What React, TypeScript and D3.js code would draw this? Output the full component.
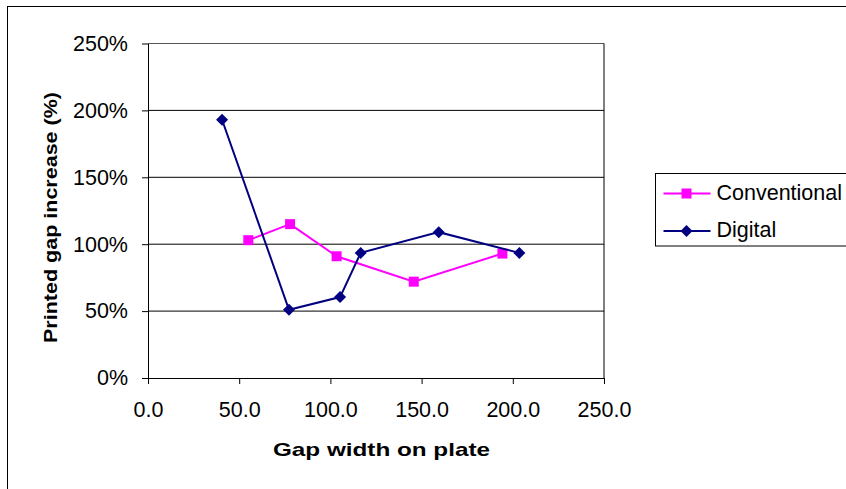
import React, { useRef, useEffect } from 'react';
import * as d3 from 'd3';

const conventionalX = [55.0, 77.9, 103.4, 145.7, 194.3];
const conventionalY = [103, 115, 91, 72, 93];
const digitalX = [40.6, 77.3, 105.3, 116.6, 159.4, 203.6];
const digitalY = [193, 51, 60.5, 93.5, 109, 93.5];
const xTicks = [0, 50, 100, 150, 200, 250];
const yTicks = [0, 50, 100, 150, 200, 250];
const seriesNames = ['Conventional', 'Digital'];
const seriesColors = ['#FF00FF', '#000080'];

export default function App() {
    const svgRef = useRef<SVGSVGElement>(null);
    const width = 846;
    const height = 489;
    const margin = { top: 43.5, right: 242, bottom: 111, left: 148 };

    useEffect(() => {
        const svg = d3.select(svgRef.current);
        svg.selectAll('*').remove();
        const font = 'Liberation Sans, Arial, sans-serif';

        // chart area border (cut off at right and bottom)
        svg.append('rect')
            .attr('x', 7.5).attr('y', 6.5)
            .attr('width', 900).attr('height', 600)
            .attr('fill', 'white').attr('stroke', 'black').attr('stroke-width', 1);

        const x = d3.scaleLinear().domain([0, 250]).range([margin.left, width - margin.right]);
        const y = d3.scaleLinear().domain([0, 250]).range([height - margin.bottom, margin.top]);

        // gridlines
        svg.append('g')
            .selectAll('line')
            .data(yTicks.filter(d => d > 0))
            .join('line')
            .attr('x1', x(0)).attr('x2', x(250))
            .attr('y1', d => y(d)).attr('y2', d => y(d))
            .attr('stroke', d => d === 250 ? '#555' : 'black').attr('stroke-width', 1);

        // right border of plot
        svg.append('line')
            .attr('x1', x(250)).attr('x2', x(250))
            .attr('y1', y(0)).attr('y2', y(250))
            .attr('stroke', 'black');

        // y axis
        svg.append('g')
            .attr('transform', `translate(${x(0)},0)`)
            .call(d3.axisLeft(y).tickValues(yTicks).tickFormat(d => `${d}%`).tickSize(6).tickSizeOuter(0).tickPadding(14))
            .call(g => g.select('.domain').attr('stroke', 'black'))
            .call(g => g.selectAll('.tick line').attr('stroke', 'black'))
            .call(g => g.selectAll('.tick text')
                .attr('font-size', 21.5)
                .attr('font-family', font)
                .attr('fill', 'black'));

        // x axis
        svg.append('g')
            .attr('transform', `translate(0,${y(0)})`)
            .call(d3.axisBottom(x).tickValues(xTicks).tickFormat(d3.format('.1f')).tickSize(6).tickSizeOuter(0).tickPadding(18))
            .call(g => g.select('.domain').attr('stroke', 'black'))
            .call(g => g.selectAll('.tick line').attr('stroke', 'black'))
            .call(g => g.selectAll('.tick text')
                .attr('font-size', 21.5)
                .attr('font-family', font)
                .attr('fill', 'black'));

        // axis titles (stretched like the original rendering)
        svg.append('text')
            .attr('x', 273).attr('y', 456)
            .attr('font-size', 18.5).attr('font-weight', 'bold')
            .attr('font-family', font)
            .attr('textLength', 217)
            .attr('lengthAdjust', 'spacingAndGlyphs')
            .text('Gap width on plate');

        svg.append('text')
            .attr('transform', `translate(57,343) rotate(-90)`)
            .attr('font-size', 18).attr('font-weight', 'bold')
            .attr('font-family', font)
            .attr('textLength', 251)
            .attr('lengthAdjust', 'spacingAndGlyphs')
            .text('Printed gap increase (%)');

        const line = d3.line<[number, number]>()
            .x(d => x(d[0]))
            .y(d => y(d[1]));

        const conventional = conventionalX.map((v, i) => [v, conventionalY[i]] as [number, number]);
        const digital = digitalX.map((v, i) => [v, digitalY[i]] as [number, number]);

        const square = d3.symbol().type(d3.symbolSquare).size(100);
        const diamond = d3.symbol().type(d3.symbolSquare).size(72);

        // Conventional
        svg.append('path')
            .datum(conventional)
            .attr('fill', 'none')
            .attr('stroke', seriesColors[0])
            .attr('stroke-width', 2)
            .attr('d', line);
        svg.append('g')
            .selectAll('path')
            .data(conventional)
            .join('path')
            .attr('transform', d => `translate(${x(d[0])},${y(d[1])})`)
            .attr('d', square())
            .attr('fill', seriesColors[0]);

        // Digital
        svg.append('path')
            .datum(digital)
            .attr('fill', 'none')
            .attr('stroke', seriesColors[1])
            .attr('stroke-width', 2)
            .attr('d', line);
        svg.append('g')
            .selectAll('path')
            .data(digital)
            .join('path')
            .attr('transform', d => `translate(${x(d[0])},${y(d[1])}) rotate(45)`)
            .attr('d', diamond())
            .attr('fill', seriesColors[1]);

        // legend
        const legend = svg.append('g').attr('transform', 'translate(655.5,173.5)');
        legend.append('rect')
            .attr('width', 300).attr('height', 72.5)
            .attr('fill', 'white').attr('stroke', 'black');
        const markers = [square, diamond];
        const rot = ['', ' rotate(45)'];
        seriesNames.forEach((name, i) => {
            const cy = 20 + i * 37.5;
            legend.append('line')
                .attr('x1', 8).attr('x2', 55)
                .attr('y1', cy).attr('y2', cy)
                .attr('stroke', seriesColors[i]).attr('stroke-width', 2);
            legend.append('path')
                .attr('transform', `translate(31,${cy})${rot[i]}`)
                .attr('d', markers[i]())
                .attr('fill', seriesColors[i]);
            legend.append('text')
                .attr('x', 61).attr('y', cy)
                .attr('dy', '0.3em')
                .attr('font-size', 21.5)
                .attr('font-family', font)
                .text(name);
        });
    }, []);

    return <svg ref={svgRef} width={width} height={height} style={{ position: 'absolute', left: 0, top: 0 }} />;
}
